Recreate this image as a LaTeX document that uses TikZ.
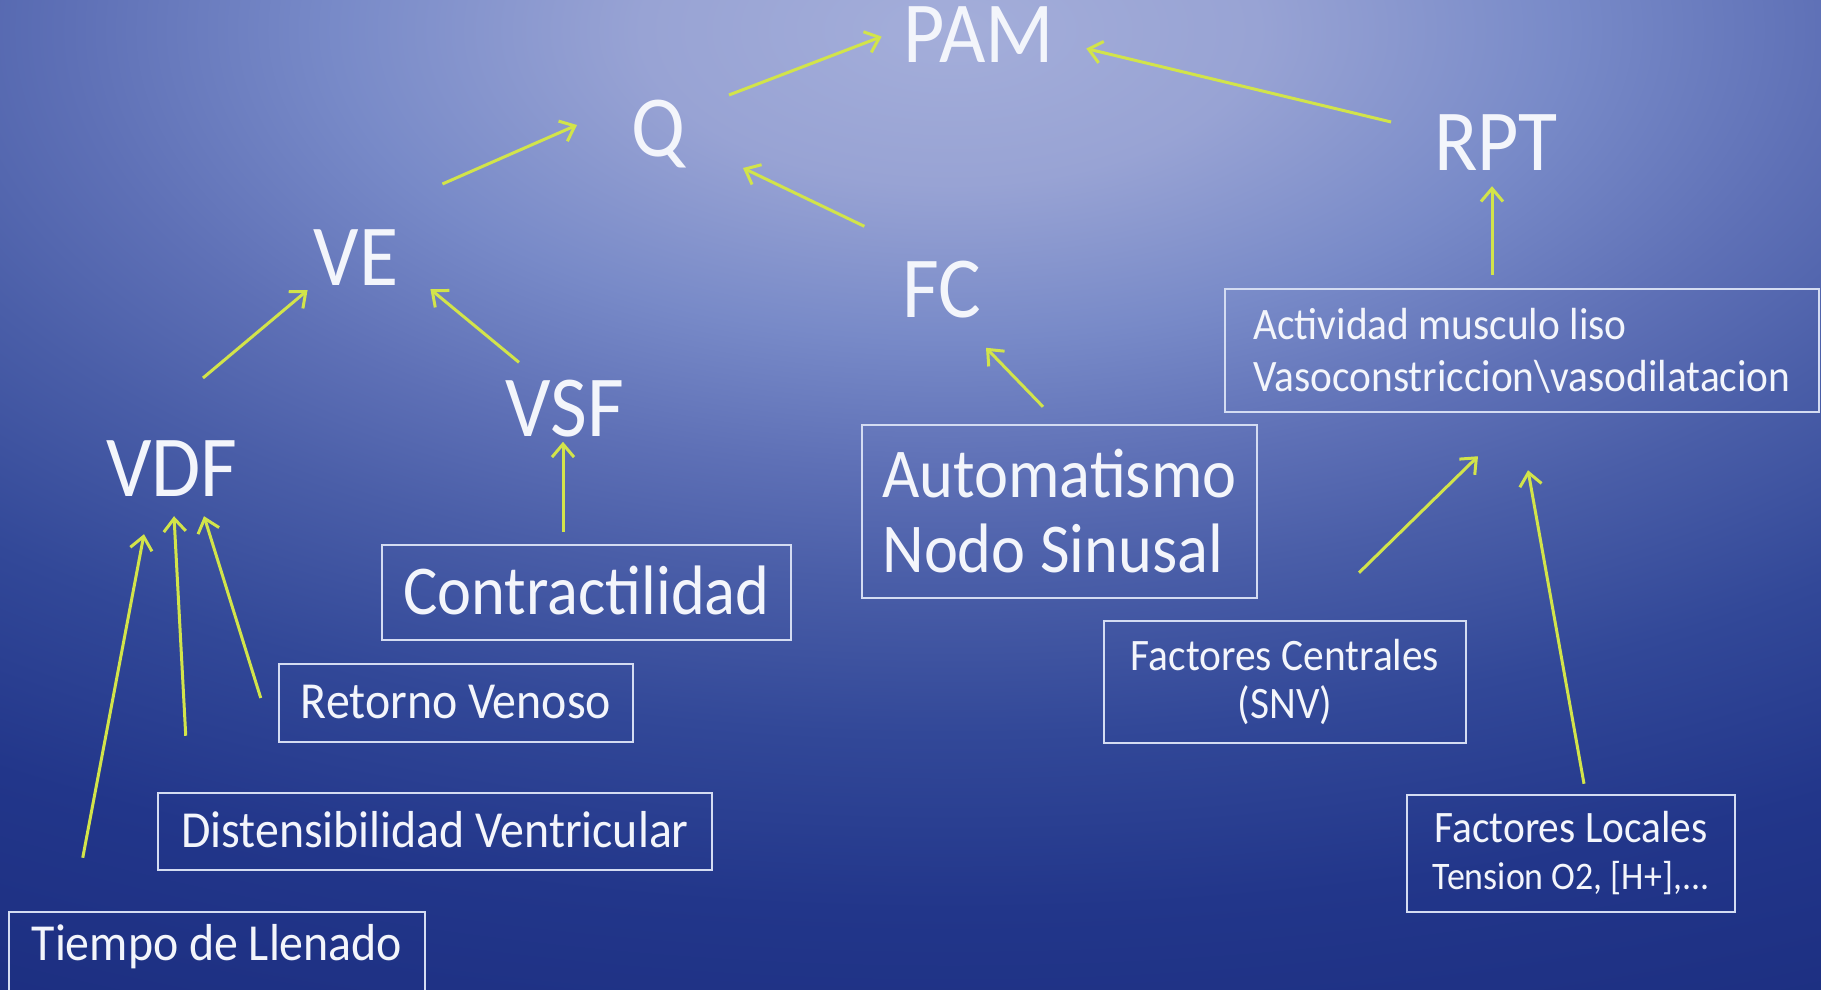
\documentclass[tikz,border=0pt]{standalone}
\usepackage{fontspec}
\setmainfont{Carlito}[FakeStretch=0.92]
\usetikzlibrary{arrows.meta}
\definecolor{fondoA}{RGB}{164,174,218}
\definecolor{fondoB}{RGB}{152,163,212}
\definecolor{fondoC}{RGB}{120,138,200}
\definecolor{fondoD}{RGB}{94,112,182}
\definecolor{fondoE}{RGB}{74,94,168}
\definecolor{fondoF}{RGB}{50,72,152}
\definecolor{fondoG}{RGB}{34,54,138}
\definecolor{fondoH}{RGB}{28,46,128}
\definecolor{blanco}{RGB}{243,245,251}
\definecolor{borde}{RGB}{212,220,242}
\definecolor{verdeamar}{RGB}{210,228,74}
\pgfdeclareradialshading{fondo}{\pgfpoint{0bp}{0bp}}{color(0bp)=(fondoA); color(3.5bp)=(fondoB); color(7bp)=(fondoC); color(10bp)=(fondoD); color(12.5bp)=(fondoE); color(16bp)=(fondoF); color(20bp)=(fondoG); color(25bp)=(fondoH); color(50bp)=(fondoH)}
\tikzset{
	grande/.style={text=blanco, inner sep=0pt, anchor=base, font=\fontsize{87}{90}\selectfont},
	caja/.style={draw=borde, line width=2.5pt, text=blanco, inner sep=0pt, align=center},
	flecha/.style={draw=verdeamar, line width=3pt, -{Straight Barb[length=13pt, width=22pt]}},
}

\begin{document}
\begin{tikzpicture}[x=1pt, y=1pt]
				% Background
				\useasboundingbox (0,0) rectangle (1821,-990);
				\clip (0,0) rectangle (1821,-990);
				\shade[shading=fondo] (950,-30) ellipse (2200 and 1100);
				% Main variables
				\node[grande] (pam) at (979,-63) {PAM};
				\node[grande] (q) at (658,-156) {Q};
				\node[grande] (rpt) at (1496,-170) {RPT};
				\node[grande] (ve) at (356,-285) {VE};
				\node[grande] (fc) at (942,-317) {FC};
				\node[grande] (vsf) at (565,-436) {VSF};
				\node[grande] (vdf) at (172,-496) {VDF};
				% Boxed factors
				\node[caja, anchor=base, minimum width=409pt, text height=69pt, text depth=26pt, font=\fontsize{70}{75}\selectfont] (ctr) at (586.5,-614) {Contractilidad};
				\node[caja, anchor=base, minimum width=354pt, text height=54pt, text depth=24pt, font=\fontsize{52}{56}\selectfont] (retorno) at (456,-718) {Retorno Venoso};
				\node[caja, anchor=base, minimum width=554pt, text height=54pt, text depth=23pt, font=\fontsize{52}{56}\selectfont] (disten) at (435,-847) {Distensibilidad Ventricular};
				\node[caja, anchor=base, minimum width=416pt, text height=48pt, text depth=50pt, font=\fontsize{52}{56}\selectfont] (tiempo) at (217,-960) {Tiempo de Llenado};
				\node[caja, align=left, minimum width=395pt, minimum height=173pt, font=\fontsize{70}{75}\selectfont] (auto) at (1059.5,-511.5) {Automatismo\\Nodo Sinusal};
				\node[caja, minimum width=362pt, minimum height=122pt, font=\fontsize{45}{48}\selectfont] (fcen) at (1285,-682) {Factores Centrales\\(SNV)};
				\node[caja, minimum width=328pt, minimum height=117pt, font=\fontsize{45}{47}\selectfont] (floc) at (1571,-853.5) {Factores Locales\\\fontsize{39}{47}\selectfont Tension O2, [H+],...};
				\node[caja, align=left, minimum width=594pt, minimum height=123pt, font=\fontsize{45}{52}\selectfont] (activ) at (1522,-350.5) {Actividad musculo liso\\Vasoconstriccion\textbackslash vasodilatacion};
				% Arrows
				\draw[flecha] ([shift={(71,61)}]q.base) -- ([shift={(-22,-1.5)}]pam.west);
				\draw[flecha] ([shift={(-43,-8)}]rpt.north west) -- ([shift={(32,-13.5)}]pam.east);
				\draw[flecha] ([shift={(44,45)}]ve.north east) -- ([shift={(-81,31)}]q.base);
				\draw[flecha] ([shift={(-38,34)}]fc.north west) -- ([shift={(85,-12)}]q.base);
				\draw[flecha] ([shift={(31,62)}]vdf.north) -- ([shift={(-6,-5)}]ve.south west);
				\draw[flecha] ([shift={(-46,17)}]vsf.north) -- ([shift={(32,-4)}]ve.south east);
				\draw[flecha] ([shift={(-23.5,12)}]ctr.north) -- ([shift={(-2,-5)}]vsf.south);
				\draw[flecha] ([shift={(-16.5,17)}]auto.north) -- ([shift={(44,-30)}]fc.south);
				\draw[flecha] ([shift={(-30,13)}]activ.north) -- ([shift={(-4,-16)}]rpt.south);
				\draw[flecha] ([shift={(74,47)}]fcen.north) -- ([shift={(-44,-43)}]activ.south);
				\draw[flecha] ([shift={(13,10)}]floc.north) -- ([shift={(6,-57)}]activ.south);
				\draw[flecha] ([shift={(75,53)}]tiempo.north west) -- ([shift={(-28,-38)}]vdf.south);
				\draw[flecha] ([shift={(29,56)}]disten.north west) -- ([shift={(2,-20)}]vdf.south);
				\draw[flecha] ([shift={(-17,5)}]retorno.west) -- ([shift={(32,-20)}]vdf.south);
			\end{tikzpicture}
\end{document}
